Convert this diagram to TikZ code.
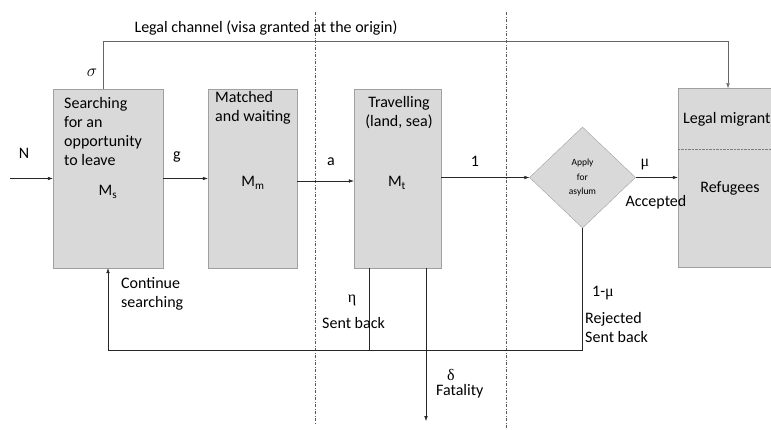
\documentclass[tikz,border=0pt]{standalone}
\usepackage{fontspec}
\setmainfont{Carlito}
\newfontfamily\greekfont{Liberation Serif}
\usetikzlibrary{arrows.meta,shapes.geometric}
\definecolor{boxfill}{HTML}{D9D9D9}
\definecolor{boxline}{HTML}{A0A0A0}
\tikzstyle{stock}=[rectangle,draw=boxline,fill=boxfill,inner sep=0pt]
\tikzstyle{choice}=[diamond,draw=boxline,fill=boxfill,inner sep=0pt,minimum width=106pt,minimum height=101pt,align=center,font=\fontsize{9.5}{14.5}\selectfont]
\tikzstyle{edge}=[draw,black!85,-{Latex[length=5pt,width=3.5pt]}]
\tikzstyle{weight}=[font=\fontsize{16}{19.2}\selectfont,inner sep=0pt]
\tikzstyle{border}=[black!65,dash pattern=on 3.5pt off 1.3pt on 0.9pt off 1.3pt]

\begin{document}
\begin{tikzpicture}[x=1pt,y=-1pt]

    \useasboundingbox (0,0) rectangle (771,430);

    % stages
    \node[stock, minimum width=110pt, minimum height=179pt] (Ms) at (108,178.5) {};
    \node[stock, minimum width=89pt, minimum height=179pt] (Mm) at (252.5,178.5) {};
    \node[stock, minimum width=87pt, minimum height=179pt] (Mt) at (397.5,178.5) {};
    \node[stock, minimum width=112pt, minimum height=179pt] (dest) at (734,178) {};
    \node[choice] (apply) at (582.5,177.5) {Apply\\for\\asylum};
    \draw[densely dotted, black!50] (dest.west |- 0,149) -- (771,149);

    % borders
    \foreach \x/\yend in {315/424, 506/430}
        \draw[border] (\x,12) -- (\x,\yend);

    % texts in the boxes
    \node[weight, anchor=west, align=left] (txtMs) at (64,131.5) {Searching\\for an\\opportunity\\to leave};
    \node[weight] (subMs) at (108,192) {M\textsubscript{s}};
    \node[weight, anchor=west, align=left] (txtMm) at (215,108) {Matched\\and waiting};
    \node[weight] (subMm) at (253,183) {M\textsubscript{m}};
    \node[weight, align=center] (txtMt) at (399,112.5) {Travelling\\(land, sea)};
    \node[weight] (subMt) at (397,183) {M\textsubscript{t}};
    \node[weight, anchor=west] (txtLeg) at (683,119) {Legal migrant};
    \node[weight] (txtRef) at (730,188) {Refugees};

    % flows
    \coordinate (inflow) at (10,178.5);
    \draw[edge] (inflow) -- (Ms);
    \draw[edge] (Ms) -- (Mm);
    \draw[edge] (Mm.east |- 0,181) -- (Mt.west |- 0,181);
    \draw[edge] (Mt.east |- apply) -- (apply.west);
    \draw[edge] (apply.east) -- (dest.west |- apply.east);

    \coordinate (legalL) at (103.3,41.7);
    \coordinate (legalR) at (728,41.7);
    \draw[edge, black!60] (legalL |- Ms.north) -- (legalL) -- (legalR) -- (legalR |- dest.north);

    \coordinate (loopL) at (108,350);
    \coordinate (sentback) at (369,350);
    \coordinate (fatal) at (426,421);
    \draw[edge] (apply.south) |- (loopL) -- (Ms.south);
    \draw[black!85] (sentback |- Mt.south) -- (sentback);
    \draw[edge] (fatal |- Mt.south) -- (fatal);

    % rates
    \foreach \x/\y/\name/\txt in {24/153/N/N, 177/157/g/g, 331/162/a/a, 475/161/one/1}
        \node[weight] (rate-\name) at (\x,\y) {\txt};
    \node[weight] (rate-sigma) at (92,73) {$\sigma$};
    \node[weight] (rate-mu) at (645,165) {\greekfont μ};
    \node[weight] (rate-eta) at (352,300) {\greekfont η};
    \node[weight] (rate-delta) at (451,375) {\greekfont δ};
    \node[weight, anchor=west] (rate-rej) at (592,293) {1-{\greekfont μ}};

    % labels
    \node[weight] (lab-legal) at (266,28) {Legal channel (visa granted at the origin)};
    \node[weight] (lab-acc) at (656,202) {Accepted};
    \node[weight, anchor=west, align=left] (lab-cont) at (121,293.5) {Continue\\searching};
    \node[weight, anchor=west] (lab-sent) at (322,323) {Sent back};
    \node[weight, anchor=west] (lab-fat) at (436,391) {Fatality};
    \node[weight, anchor=west, align=left] (lab-rej) at (585,327.5) {Rejected\\Sent back};

\end{tikzpicture}
\end{document}
